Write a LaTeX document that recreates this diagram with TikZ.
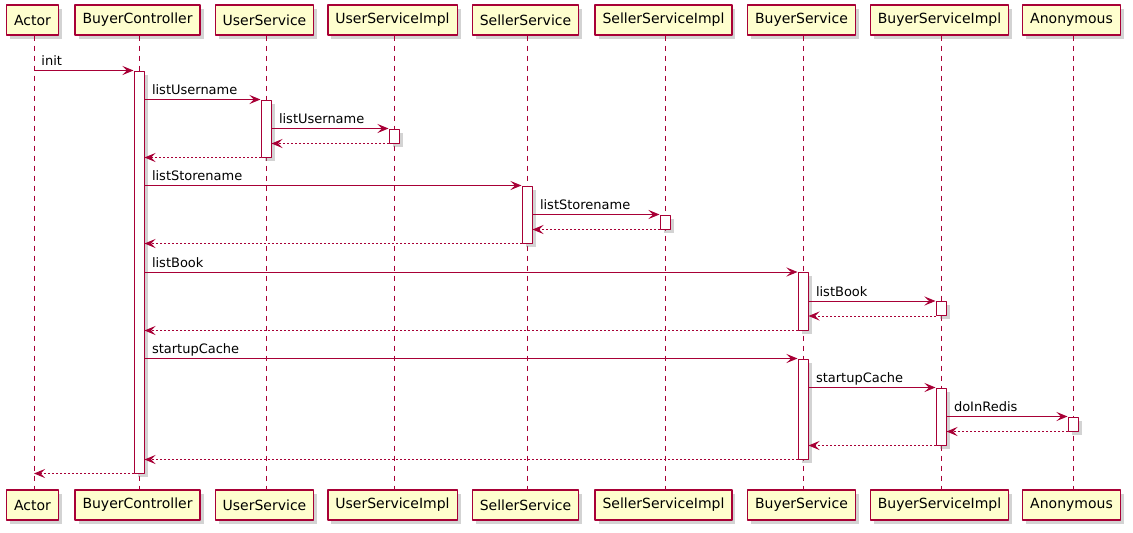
\documentclass[tikz,border=0pt]{standalone}
\usepackage{fontspec}
\setmainfont{DejaVu Sans}
\usetikzlibrary{arrows.meta,shadows}
\definecolor{umlred}{HTML}{A80036}
\definecolor{umlfill}{HTML}{FEFECE}
\begin{document}
\begin{tikzpicture}[x=1pt, y=-1pt, font=\fontsize{13}{15}\selectfont, line join=round,
    shade/.style={drop shadow={shadow xshift=3.5pt, shadow yshift=-3.5pt, opacity=0.35}},
    part/.style={draw=umlred, line width=1.2pt, fill=umlfill, minimum height=30pt, inner xsep=7.5pt, inner ysep=0pt, font=\fontsize{14}{16}\selectfont, shade},
    life/.style={draw=umlred, line width=1pt, dash pattern=on 5pt off 5pt},
    bar/.style={draw=umlred, line width=1pt, fill=white, minimum width=10pt, inner sep=0pt, shade},
    msg/.style={draw=umlred, line width=1pt, -{Stealth[length=11pt, width=9pt, inset=4.5pt]}},
    ret/.style={msg, dash pattern=on 2pt off 2pt},
    lbl/.style={pos=0, anchor=base west, inner sep=0pt, xshift=7pt, yshift=5pt}]
    \useasboundingbox (0,0) rectangle (1133,533);
    \foreach \n/\x/\t in {act/34/Actor, bc/139/BuyerController, us/266/UserService, usi/394/UserServiceImpl, ss/527/SellerService, ssi/665/SellerServiceImpl, bs/803/BuyerService, bsi/941/BuyerServiceImpl, an/1073/Anonymous} {
        \coordinate (\n) at (\x,0);
        \node[part] (\n T) at (\x-1.5,20) {\t};
        \node[part] (\n B) at (\x-1.5,505) {\t};
        \draw[life] (\n |- \n T.south) -- (\n |- \n B.north);
    }
    \node[bar, minimum height=402pt] (bc1) at (139,272) {};
    \node[bar, minimum height=57pt] (us1) at (266,128.5) {};
    \node[bar, minimum height=14pt] (usi1) at (394,136) {};
    \node[bar, minimum height=57pt] (ss1) at (527,214.5) {};
    \node[bar, minimum height=14pt] (ssi1) at (665,222) {};
    \node[bar, minimum height=57.5pt] (bs1) at (803,301.25) {};
    \node[bar, minimum height=14pt] (bsi1) at (941,308.5) {};
    \node[bar, minimum height=100pt] (bs2) at (803,409) {};
    \node[bar, minimum height=57pt] (bsi2) at (941,416.5) {};
    \node[bar, minimum height=14pt] (an1) at (1073,424) {};
    \draw[msg] (act |- bc1.north) -- (bc1.north west) node[lbl]{init};
    \draw[msg] (bc1.east |- us1.north) -- (us1.north west) node[lbl]{listUsername};
    \draw[msg] (us1.east |- usi1.north) -- (usi1.north west) node[lbl]{listUsername};
    \draw[ret] (usi1.south west) -- (us1.east |- usi1.south);
    \draw[ret] (us1.south west) -- (bc1.east |- us1.south);
    \draw[msg] (bc1.east |- ss1.north) -- (ss1.north west) node[lbl]{listStorename};
    \draw[msg] (ss1.east |- ssi1.north) -- (ssi1.north west) node[lbl]{listStorename};
    \draw[ret] (ssi1.south west) -- (ss1.east |- ssi1.south);
    \draw[ret] (ss1.south west) -- (bc1.east |- ss1.south);
    \draw[msg] (bc1.east |- bs1.north) -- (bs1.north west) node[lbl]{listBook};
    \draw[msg] (bs1.east |- bsi1.north) -- (bsi1.north west) node[lbl]{listBook};
    \draw[ret] (bsi1.south west) -- (bs1.east |- bsi1.south);
    \draw[ret] (bs1.south west) -- (bc1.east |- bs1.south);
    \draw[msg] (bc1.east |- bs2.north) -- (bs2.north west) node[lbl]{startupCache};
    \draw[msg] (bs2.east |- bsi2.north) -- (bsi2.north west) node[lbl]{startupCache};
    \draw[msg] (bsi2.east |- an1.north) -- (an1.north west) node[lbl]{doInRedis};
    \draw[ret] (an1.south west) -- (bsi2.east |- an1.south);
    \draw[ret] (bsi2.south west) -- (bs2.east |- bsi2.south);
    \draw[ret] (bs2.south west) -- (bc1.east |- bs2.south);
    \draw[ret] (bc1.south west) -- (act |- bc1.south);
\end{tikzpicture}
\end{document}
